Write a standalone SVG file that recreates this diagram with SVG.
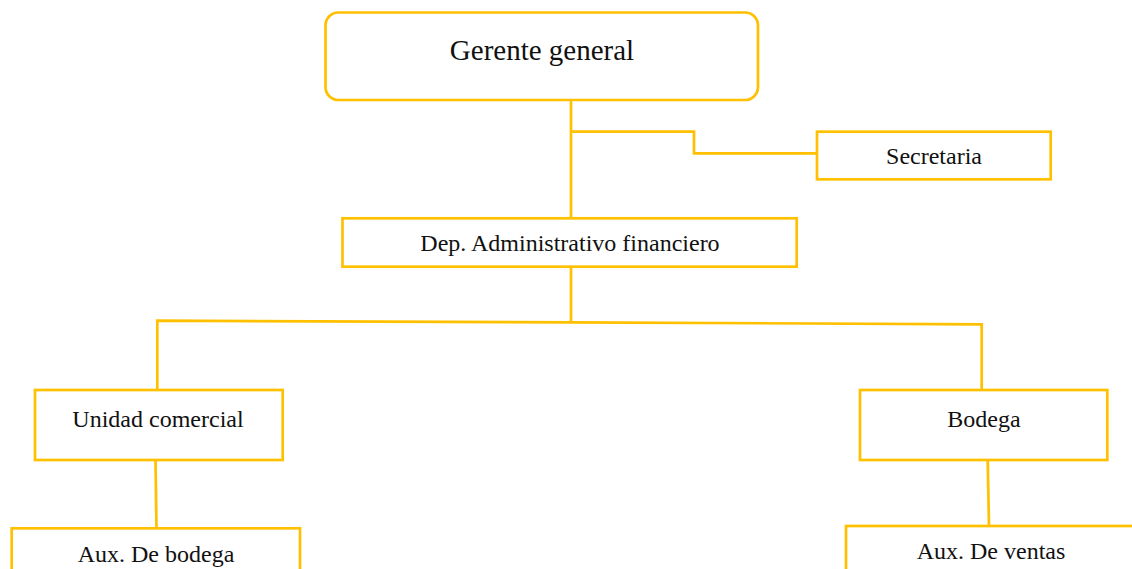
<svg xmlns="http://www.w3.org/2000/svg" width="1132" height="569" viewBox="0 0 1132 569">
<style>
.box{fill:#ffffff;stroke:#FFC000;stroke-width:2.7}
.ln{fill:none;stroke:#FFC000;stroke-width:2.7}
.t{font-family:"Liberation Serif","Times New Roman",serif;font-size:24px;fill:#111111;text-anchor:middle}
.big{font-size:29px}
</style>
<rect width="1132" height="569" fill="#ffffff"/>
<g id="connectors">
<polyline class="ln" points="571,100 571,218"/>
<polyline class="ln" points="571,131.7 694,131.7 694,153.3 817,153.3"/>
<polyline class="ln" points="571,267 571,322.3"/>
<polyline class="ln" points="157.3,390 157.3,320.7 571,322.3 981.7,324.3 981.7,390"/>
<polyline class="ln" points="155.5,460 156.5,528.3"/>
<polyline class="ln" points="987.7,460 989,526"/>
</g>
<g id="gerente">
<rect class="box" x="325.5" y="12.5" width="432.5" height="87.5" rx="13"/>
<text class="t big" x="542" y="60">Gerente general</text>
</g>
<g id="secretaria">
<rect class="box" x="817" y="131.7" width="233.7" height="47.6"/>
<text class="t" x="934" y="164">Secretaria</text>
</g>
<g id="dep">
<rect class="box" x="342.5" y="218.3" width="454.2" height="48.4"/>
<text class="t" x="570" y="251">Dep. Administrativo financiero</text>
</g>
<g id="unidad">
<rect class="box" x="35" y="390" width="247.7" height="70"/>
<text class="t" x="158" y="426.7">Unidad comercial</text>
</g>
<g id="bodega">
<rect class="box" x="860" y="390" width="247.3" height="70"/>
<text class="t" x="984" y="426.7">Bodega</text>
</g>
<g id="auxbodega">
<rect class="box" x="11.7" y="528.3" width="288.3" height="60"/>
<text class="t" x="156" y="561.7">Aux. De bodega</text>
</g>
<g id="auxventas">
<rect class="box" x="846" y="526" width="292" height="60"/>
<text class="t" x="991" y="559.3">Aux. De ventas</text>
</g>
</svg>
